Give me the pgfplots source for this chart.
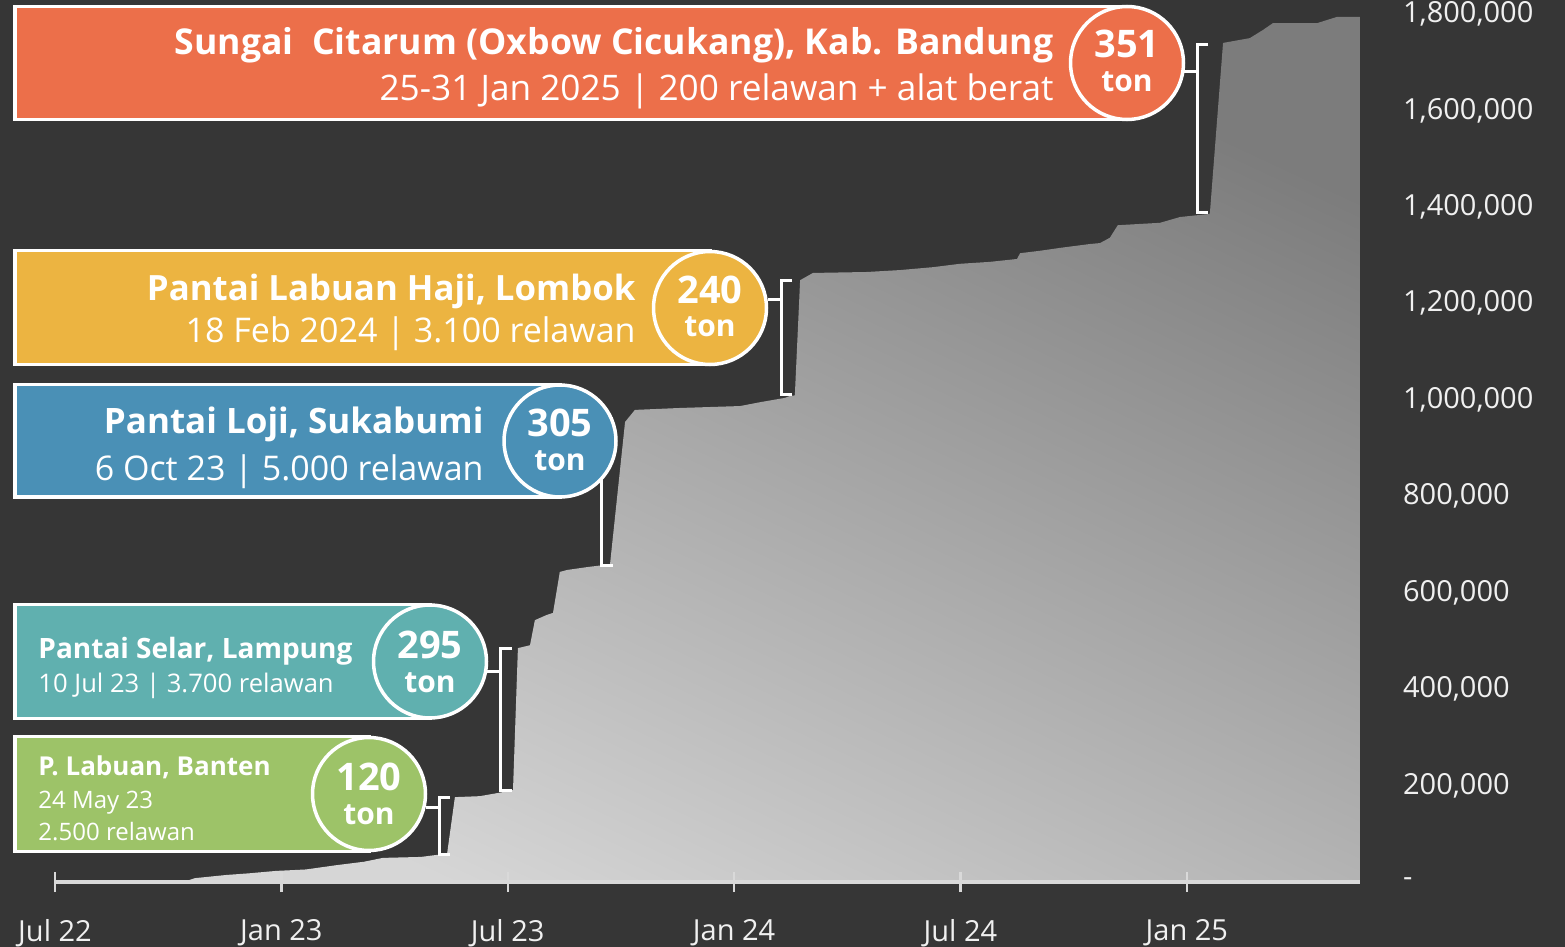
\documentclass[border=0pt]{standalone}
\usepackage{pgfplots}
\usepackage{pgfplotstable}
\pgfplotsset{compat=1.18}
\usepackage{fontspec}
\setmainfont{Open Sans}
\definecolor{bg}{HTML}{363636}
\definecolor{orng}{HTML}{EC6F4A}
\definecolor{yel}{HTML}{ECB441}
\definecolor{blu}{HTML}{4A90B6}
\definecolor{tealc}{HTML}{60B0AF}
\definecolor{grn}{HTML}{9DC368}
\definecolor{axc}{HTML}{D9D9D9}
\definecolor{lbl}{HTML}{F0F0F0}
\definecolor{areatop}{HTML}{7C7C7C}
\definecolor{areabot}{HTML}{D6D6D6}
\newcommand\fs[1]{\fontsize{#1}{#1}\selectfont}

% months since Jul 2022, cumulative kg
\pgfplotstableread{
m v
0 0
3.40 0
3.71 8000
4.53 14500
5.14 18000
5.86 23000
6.65 26000
7.47 35000
8.19 42000
8.69 50000
9.70 52000
10.10 56000
10.39 57000
10.60 176000
11.26 178000
12.06 189000
12.14 191000
12.27 485000
12.59 491000
12.72 543000
13.04 554000
13.20 558000
13.38 643000
13.57 647000
14.10 653000
14.52 657000
14.71 658000
15.11 954000
15.37 979000
16.56 983000
18.16 987000
18.69 995000
19.35 1004000
19.48 1008000
19.61 1009000
19.75 1248000
20.09 1263000
21.52 1265000
22.40 1269000
23.27 1275000
23.99 1282000
24.78 1286000
25.50 1292000
25.58 1304000
26.11 1309000
26.64 1315000
27.43 1323000
27.70 1325000
27.96 1336000
28.17 1362000
29.29 1367000
29.82 1379000
30.56 1385000
30.61 1386000
30.96 1740000
31.67 1750000
32.02 1767000
32.28 1781000
33.45 1781000
33.98 1794000
34.59 1794000
}\cumdata

\begin{document}
\begin{tikzpicture}
\begin{scope}[x=0.5pt,y=-0.5pt]
\fill[bg] (0,0) rectangle (1565,947);
\end{scope}
\begin{axis}[at={(27.5pt,-441pt)}, anchor=south west, scale only axis,
  width=652.5pt, height=434pt,
  xmin=0, xmax=34.59, ymin=0, ymax=1800000,
  axis x line*=bottom, axis y line*=right,
  x axis line style={draw=axc, line width=1.6pt},
  y axis line style={draw=none},
  xtick={0,6,...,30},
  xticklabels={Jul 22,Jan 23,Jul 23,Jan 24,Jul 24,Jan 25},
  xtick align=center, major tick length=10pt,
  xtick style={draw=axc, line width=1.2pt},
  ytick={0,200000,...,1800000},
  yticklabels={{-},{200,000},{400,000},{600,000},{800,000},{1,000,000},{1,200,000},{1,400,000},{1,600,000},{1,800,000}},
  ytick style={draw=none},
  scaled y ticks=false,
  tick label style={font=\fs{14.5pt}, text=lbl},
  xticklabel style={yshift=-10pt},
  yticklabel style={anchor=west, xshift=18pt},
  axis on top,
]
\addplot[draw=none, top color=areatop, bottom color=areabot, shading angle=-25]
  table[x=m,y=v]{\cumdata} \closedcycle;
\end{axis}

\begin{scope}[x=0.5pt,y=-0.5pt, line width=1.5pt]
% brackets
\draw[white] (1208,45) -- (1197,45) -- (1197,213) -- (1208,213);
\draw[white] (1184,72) -- (1197,72);
\draw[white] (792,280) -- (781,280) -- (781,394) -- (792,394);
\draw[white] (768,299) -- (781,299);
\draw[white] (613,418) -- (601,418) -- (601,565) -- (613,565);
\draw[white] (588,470) -- (601,470);
\draw[white] (512,648) -- (500,648) -- (500,790) -- (512,790);
\draw[white] (486,671) -- (500,671);
\draw[white] (450,797) -- (439,797) -- (439,854) -- (450,854);
\draw[white] (426,807) -- (439,807);

\begin{scope}[line width=1.75pt, draw=white]
% orange
\draw[fill=orng] (15,6.5) rectangle (1127,119.5);
\draw[fill=orng] (1127,63) circle[radius=28.25pt];
% yellow
\draw[fill=yel] (15,250.5) rectangle (710,364.5);
\draw[fill=yel] (710,308) circle[radius=28.25pt];
% blue
\draw[fill=blu] (15,384.5) rectangle (560,497);
\draw[fill=blu] (560,441) circle[radius=28pt];
% teal
\draw[fill=tealc] (15,604.5) rectangle (430,718.5);
\draw[fill=tealc] (430,661.5) circle[radius=28.25pt];
% green
\draw[fill=grn] (15,736.5) rectangle (369,851.5);
\draw[fill=grn] (369,794) circle[radius=28.25pt];
\end{scope}

\begin{scope}[every node/.style={inner sep=0pt, text=white}]
% orange text
\node[anchor=base east, font=\bfseries\fs{17.8pt}] at (1055,55) {Sungai~ Citarum (Oxbow Cicukang), Kab. Bandung};
\node[anchor=base east, font=\fs{17.6pt}] at (1055,101) {25-31 Jan 2025 | 200 relawan + alat berat};
\node[anchor=base, font=\bfseries\fs{19pt}] at (1127,58) {351};
\node[anchor=base, font=\bfseries\fs{15pt}] at (1127,92) {ton};
% yellow
\node[anchor=base east, font=\bfseries\fs{17.4pt}] at (637,300) {Pantai Labuan Haji, Lombok};
\node[anchor=base east, font=\fs{17pt}] at (637,343) {18 Feb 2024 | 3.100 relawan};
\node[anchor=base, font=\bfseries\fs{19pt}] at (710,303) {240};
\node[anchor=base, font=\bfseries\fs{15pt}] at (710,336) {ton};
% blue
\node[anchor=base east, font=\bfseries\fs{17.5pt}] at (485,433) {Pantai Loji, Sukabumi};
\node[anchor=base east, font=\fs{17pt}] at (485,480) {6 Oct 23 | 5.000 relawan};
\node[anchor=base, font=\bfseries\fs{19pt}] at (560,436) {305};
\node[anchor=base, font=\bfseries\fs{15pt}] at (560,470) {ton};
% teal
\node[anchor=base west, font=\bfseries\fs{14pt}] at (37,658) {Pantai Selar, Lampung};
\node[anchor=base west, font=\fs{12.8pt}] at (37,692) {10 Jul 23 | 3.700 relawan};
\node[anchor=base, font=\bfseries\fs{19pt}] at (430,658) {295};
\node[anchor=base, font=\bfseries\fs{15pt}] at (430,692) {ton};
% green
\node[anchor=base west, font=\bfseries\fs{13pt}] at (37,775) {P. Labuan, Banten};
\node[anchor=base west, font=\fs{12pt}] at (37,808) {24 May 23};
\node[anchor=base west, font=\fs{12pt}] at (37,840) {2.500 relawan};
\node[anchor=base, font=\bfseries\fs{19pt}] at (369,790) {120};
\node[anchor=base, font=\bfseries\fs{15pt}] at (369,824) {ton};
\end{scope}
\end{scope}

\pgfresetboundingbox
\path[use as bounding box] (0,0) rectangle (782.5pt,-473.5pt);
\end{tikzpicture}
\end{document}
